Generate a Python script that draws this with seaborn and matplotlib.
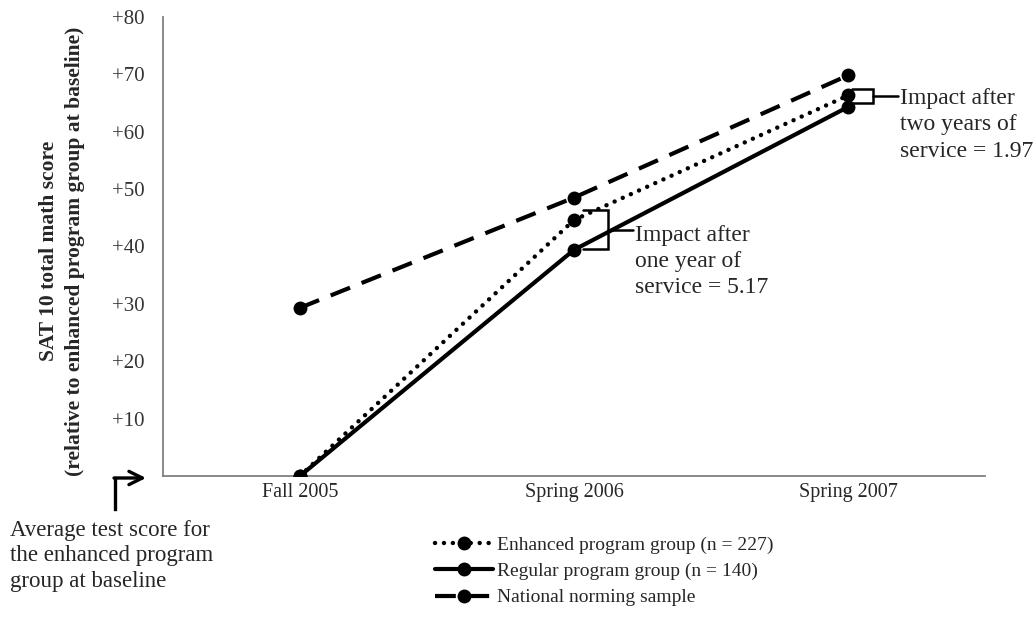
import matplotlib
matplotlib.use('Agg')
import matplotlib.pyplot as plt
import seaborn as sns
import pandas as pd

periods = ['Fall 2005', 'Spring 2006', 'Spring 2007']
enhanced = [0.0, 44.6, 66.3]
regular = [0.0, 39.4, 64.3]
national = [29.3, 48.5, 69.8]
yticks = [0, 10, 20, 30, 40, 50, 60, 70, 80]

labels = ['Enhanced program group (n = 227)',
          'Regular program group (n = 140)',
          'National norming sample']

sns.set_style('white')
plt.rcParams['font.family'] = ['Liberation Serif', 'DejaVu Serif']

fig = plt.figure(figsize=(10.36, 6.2), dpi=100)
ax = fig.add_axes([0.157, 0.232, 0.794, 0.741])

pos = list(range(len(periods)))
df_nat = pd.DataFrame({'x': pos, 'y': national})
df_enh = pd.DataFrame({'x': pos, 'y': enhanced})
df_reg = pd.DataFrame({'x': pos, 'y': regular})

sns.lineplot(data=df_nat, x='x', y='y', ax=ax, color='black', lw=3.0,
             linestyle=(0, (5, 3)), marker='o', markersize=10,
             markeredgewidth=0, label=labels[2], zorder=3)
sns.lineplot(data=df_enh, x='x', y='y', ax=ax, color='black', lw=3.2,
             linestyle=(0, (0.01, 2.0)), dash_capstyle='round', marker='o',
             markersize=10, markeredgewidth=0, label=labels[0], zorder=4)
sns.lineplot(data=df_reg, x='x', y='y', ax=ax, color='black', lw=3.0,
             linestyle='-', marker='o', markersize=10, markeredgewidth=0,
             label=labels[1], zorder=5)

ax.set_xlim(-0.5, 2.5)
ax.set_ylim(0, 80)
ax.set_xticks(pos)
ax.set_xticklabels(periods, fontsize=14.5)
ax.set_xticks([-0.5, 0.5, 1.5, 2.5], minor=True)
ax.set_yticks(yticks)
ax.set_yticklabels(['' if v == 0 else f'+{v}' for v in yticks], fontsize=15,
                   color='#333333')
ax.tick_params(axis='x', which='major', length=0, pad=5)
ax.tick_params(axis='x', which='minor', length=5, color='#808080', width=1.2,
               direction='out')
ax.tick_params(axis='y', length=5, color='#808080', width=1.2, direction='out',
               pad=8)
for side in ['top', 'right']:
    ax.spines[side].set_visible(False)
for side in ['left', 'bottom']:
    ax.spines[side].set_color('#808080')
    ax.spines[side].set_linewidth(1.3)
ax.set_xlabel('')
ax.set_ylabel('SAT 10 total math score\n(relative to enhanced program group at baseline)',
              fontsize=15.5, fontweight='bold', linespacing=1.45)
ax.yaxis.set_label_coords(-0.094, 0.49)

# brackets for impacts
def bracket(xc, top, bot, x0, x1, x2):
    ax.plot([xc + x0, xc + x1, xc + x1, xc + x0], [top, top, bot, bot],
            color='black', lw=1.8, solid_joinstyle='miter', zorder=6,
            clip_on=False)
    mid = (top + bot) / 2
    ax.plot([xc + x1, xc + x2], [mid, mid], color='black', lw=1.8, zorder=6,
            clip_on=False)

bracket(1, 46.3, 39.5, 0.033, 0.124, 0.215)
bracket(2, 67.4, 65.0, 0.015, 0.091, 0.182)

ax.text(1.224, 43.8, 'Impact after\none year of\nservice = 5.17', fontsize=17,
        va='top', ha='left', linespacing=1.33)
ax.text(2.19, 67.6, 'Impact after\ntwo years of\nservice = 1.97', fontsize=17,
        va='top', ha='left', linespacing=1.33)

# baseline note with bent arrow
fig.text(0.01, 1 - 520 / 620, 'Average test score for\nthe enhanced program\ngroup at baseline',
         fontsize=16.5, va='top', ha='left', linespacing=1.28)
fig.add_artist(plt.Line2D([115 / 1036, 115 / 1036], [1 - 509 / 620, 1 - 478 / 620],
                          color='black', lw=2.4, solid_capstyle='projecting'))
ax.annotate('', xy=(146 / 1036, 1 - 478 / 620), xycoords='figure fraction',
            xytext=(114 / 1036, 1 - 478 / 620), textcoords='figure fraction',
            arrowprops=dict(arrowstyle='->', lw=2.4, color='black',
                            mutation_scale=24, shrinkA=0, shrinkB=0))

ax.get_legend().remove()
handles, labs = ax.get_legend_handles_labels()
order = [labs.index(l) for l in labels]
fig.legend([handles[i] for i in order], [labs[i] for i in order],
           loc='upper left', bbox_to_anchor=(435 / 1036, 1 - 536 / 620),
           frameon=False, fontsize=14, handlelength=3.0, handletextpad=0.2,
           labelspacing=0.45, borderpad=0, borderaxespad=0)

fig.savefig('out.png', dpi=100, facecolor='white')
